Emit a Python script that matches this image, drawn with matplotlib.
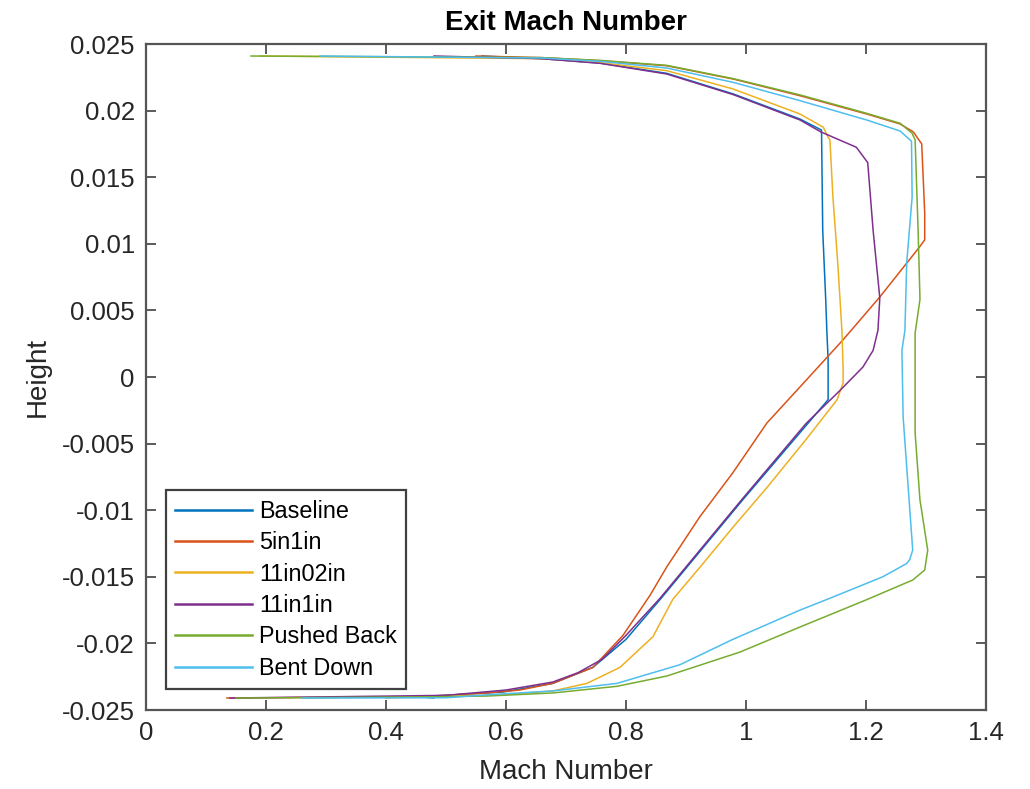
import numpy as np
import matplotlib
matplotlib.use("Agg")
import matplotlib.pyplot as plt
from matplotlib.ticker import FuncFormatter

plt.rcParams['font.family'] = ['Liberation Sans', 'DejaVu Sans']
plt.rcParams['axes.unicode_minus'] = False

# Exit Mach number profiles (Mach, Height), traced top -> right side -> bottom
baseline_mach = [0.56, 0.66, 0.757, 0.868, 0.979, 1.09, 1.126, 1.128, 1.133, 1.135,
                 1.137, 1.137, 0.995, 0.857, 0.80, 0.745, 0.678, 0.595, 0.457, 0.48]
baseline_h = [0.0241, 0.0239, 0.02357, 0.0228, 0.02125, 0.01937, 0.01854, 0.011, 0.0058, 0.0033,
              0.0013, -0.0017, -0.0092, -0.0167, -0.0197, -0.0218, -0.0230, -0.02365, -0.0240, -0.0241]

in5_mach = [0.55, 0.66, 0.757, 0.868, 0.979, 1.09, 1.201, 1.257, 1.279, 1.293, 1.298, 1.298,
            1.29, 1.223, 1.162, 1.09, 1.035, 0.978, 0.923, 0.868, 0.84, 0.795, 0.745, 0.678, 0.623,
            0.568, 0.457, 0.135]
in5_h = [0.0241, 0.02398, 0.02375, 0.02337, 0.02237, 0.02112, 0.01975, 0.0190, 0.0184, 0.0175, 0.0123, 0.0103,
         0.0098, 0.0060, 0.0028, -0.00075, -0.00345, -0.0072, -0.0105, -0.01426, -0.0164, -0.0194, -0.0218, -0.0230,
         -0.0235, -0.02372, -0.0240, -0.0241]

in11_02_mach = [0.19, 0.66, 0.757, 0.868, 0.979, 1.09, 1.129, 1.137, 1.14, 1.145, 1.153, 1.16,
                1.162, 1.162, 1.152, 1.10, 1.035, 0.978, 0.923, 0.878, 0.845, 0.79, 0.735, 0.678, 0.595,
                0.457, 0.40]
in11_02_h = [0.0241, 0.0239, 0.0236, 0.0230, 0.02162, 0.01975, 0.01875, 0.0180, 0.0178, 0.0135, 0.0086, 0.0035,
             0.0006, -0.00045, -0.0017, -0.0047, -0.0083, -0.0113, -0.0143, -0.0167, -0.0195, -0.0218, -0.0230,
             -0.02357, -0.02386, -0.0240, -0.0241]

in11_1_mach = [0.48, 0.66, 0.757, 0.868, 0.979, 1.09, 1.125, 1.184, 1.203, 1.212, 1.223, 1.223, 1.22,
               1.212, 1.195, 1.157, 1.10, 0.995, 0.857, 0.80, 0.76, 0.72, 0.678, 0.60, 0.50, 0.14]
in11_1_h = [0.0241, 0.0239, 0.02355, 0.02275, 0.0212, 0.0193, 0.0184, 0.01725, 0.0161, 0.0110, 0.0060, 0.0058, 0.0035,
            0.0020, 0.00075, -0.0010, -0.0035, -0.0091, -0.0166, -0.0194, -0.0212, -0.0222, -0.0229, -0.0235, -0.0239,
            -0.0241]

pushed_mach = [0.175, 0.66, 0.757, 0.868, 0.979, 1.09, 1.201, 1.257, 1.277, 1.282, 1.287, 1.29, 1.29,
               1.282, 1.282, 1.29, 1.303, 1.298, 1.278, 1.20, 1.09, 0.99, 0.868, 0.785, 0.678, 0.568, 0.457, 0.15]
pushed_h = [0.0241, 0.02398, 0.02377, 0.0234, 0.0224, 0.02118, 0.0198, 0.01905, 0.0183, 0.0178, 0.0110, 0.0060, 0.0058,
            0.0033, -0.0042, -0.0092, -0.0130, -0.01449, -0.01524, -0.01674, -0.01877, -0.02065, -0.02245, -0.02322,
            -0.02372, -0.02395, -0.02402, -0.0241]

bent_mach = [0.29, 0.66, 0.757, 0.868, 0.979, 1.09, 1.201, 1.257, 1.276, 1.277, 1.268, 1.265, 1.26, 1.262,
             1.27, 1.278, 1.273, 1.268, 1.228, 1.135, 1.09, 0.978, 0.89, 0.785, 0.678, 0.568, 0.50, 0.26]
bent_h = [0.0241, 0.02395, 0.0237, 0.0232, 0.02212, 0.02075, 0.0193, 0.01847, 0.0177, 0.0135, 0.0086, 0.0035, 0.0020,
          -0.0030, -0.0080, -0.0130, -0.0137, -0.0140, -0.0150, -0.0167, -0.0175, -0.0197, -0.0216, -0.0230, -0.02357,
          -0.02386, -0.02408, -0.0241]

labels = ['Baseline', '5in1in', '11in02in', '11in1in', 'Pushed Back', 'Bent Down']
colors = ['#0072BD', '#D95319', '#EDB120', '#7E2F8E', '#77AC30', '#4DBEEE']
series = [(baseline_mach, baseline_h), (in5_mach, in5_h), (in11_02_mach, in11_02_h),
          (in11_1_mach, in11_1_h), (pushed_mach, pushed_h), (bent_mach, bent_h)]

fig = plt.figure(figsize=(10.3, 7.89), dpi=100)
ax = fig.add_axes([0.1417, 0.1001, 0.8155, 0.8441])

for (m, h), lab, c in zip(series, labels, colors):
    ax.plot(m, h, color=c, lw=1.1, label=lab)

ax.set_xlim(0, 1.4)
ax.set_ylim(-0.025, 0.025)
ax.set_xticks(np.arange(0, 1.41, 0.2))
ax.set_yticks(np.arange(-0.025, 0.0251, 0.005))
fmt = FuncFormatter(lambda v, p: '%g' % round(v, 4))
ax.xaxis.set_major_formatter(fmt)
ax.yaxis.set_major_formatter(fmt)

ax.tick_params(direction='in', top=True, right=True, length=7, width=1.2,
               labelsize=18.5, colors='#404040', labelcolor='#262626', pad=8)
for s in ax.spines.values():
    s.set_color('#555555')
    s.set_linewidth(1.6)

ax.set_xlabel('Mach Number', fontsize=20, color='#262626', labelpad=10)
ax.set_ylabel('Height', fontsize=20, color='#262626', labelpad=8)
ax.set_title('Exit Mach Number', fontsize=20, fontweight='bold', pad=10)

leg = ax.legend(loc='lower left', bbox_to_anchor=(0.0238, 0.0315), borderaxespad=0,
                fontsize=16.8, handlelength=3.3, handletextpad=0.3, labelspacing=0.36,
                fancybox=False, framealpha=1, borderpad=0.4)
leg.get_frame().set_edgecolor('#404040')
leg.get_frame().set_linewidth(1.6)
for l in leg.get_lines():
    l.set_linewidth(1.8)

fig.savefig('out.png', dpi=100)
